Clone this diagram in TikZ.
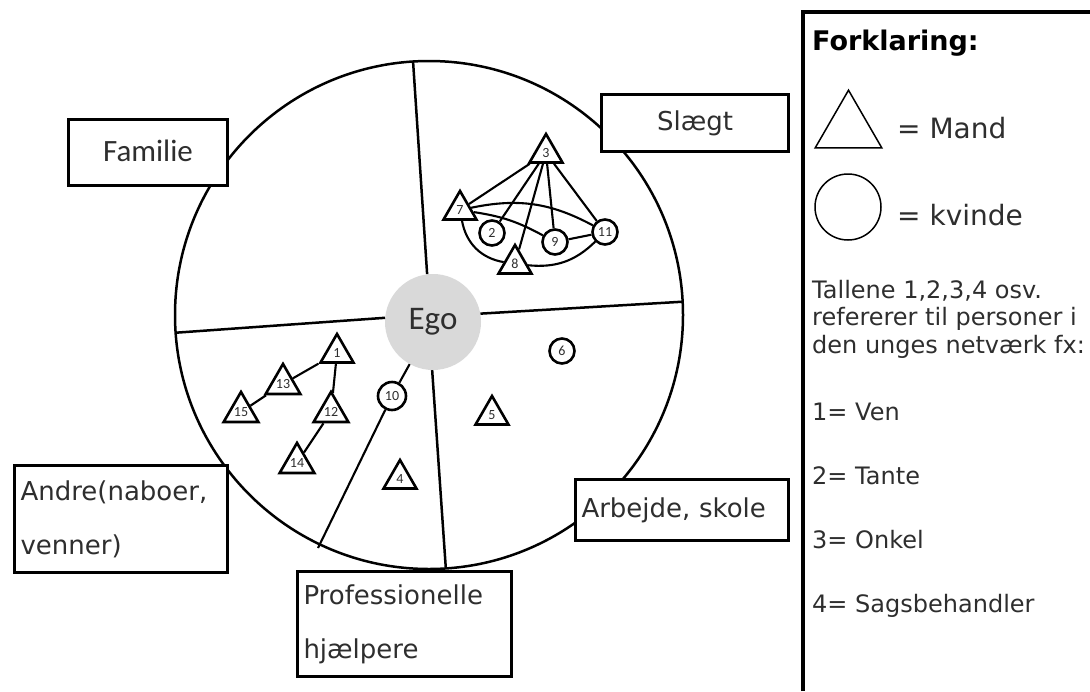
\documentclass[tikz,border=0pt]{standalone}
\usepackage{fontspec}
\setmainfont{DejaVu Sans}
\newfontfamily\carlito{Carlito}
\usetikzlibrary{shapes.geometric}
\definecolor{ink}{HTML}{2E2E2E}
\definecolor{egogray}{HTML}{D9D9D9}
\begin{document}
\begin{tikzpicture}
            [x=1pt, y=1pt,
             man/.style = {regular polygon, regular polygon sides=3, draw, line width=2.6pt, fill=white, inner sep=0pt, minimum size=38pt, text=ink, font=\carlito\fontsize{14}{14}\selectfont},
             woman/.style = {circle, draw, line width=2.6pt, fill=white, inner sep=0pt, minimum size=25pt, text=ink, font=\carlito\fontsize{14}{14}\selectfont},
             tie/.style = {line width=2.1pt},
             sector/.style = {draw, line width=3pt, fill=white, inner sep=6pt, text=ink, font=\fontsize{26}{54}\selectfont},
             legend/.style = {anchor=base west, inner sep=0pt, text=ink, font=\fontsize{24}{28}\selectfont}]
            \useasboundingbox (0,0) rectangle (1090,-691);
            % ring and ego
            \coordinate (c) at (429,-315);
            \draw[line width=2.5pt] (c) circle[radius=254];
            \node[circle, fill=egogray, inner sep=0pt, minimum size=96pt, text=ink, font=\carlito\fontsize{33}{33}\selectfont] (ego) at (433,-322) {Ego};
            \foreach \a [count=\i] in {93.6,184,3,273.8}
                \path (c) ++(\a:254) coordinate (d\i);
            \draw[line width=2.5pt] (ego.97) -- (d1);
            \draw[line width=2.5pt] (ego.175) -- (d2);
            \draw[line width=2.5pt] (ego.10) -- (d3);
            \draw[line width=2.5pt] (ego.269) -- (d4);
            % persons
            \node[man] (3) at (546,-153) {3};
            \node[man] (7) at (460,-210) {7};
            \node[man] (8) at (515,-264) {8};
            \node[woman] (2) at (492,-233) {2};
            \node[woman] (9) at (555,-242) {9};
            \node[woman] (11) at (605,-232) {11};
            \node[woman] (6) at (562,-351) {6};
            \node[woman, minimum size=28pt] (10) at (392,-396) {10};
            \node[man] (1) at (337,-353) {1};
            \node[man] (13) at (283,-384) {13};
            \node[man] (15) at (241,-412) {15};
            \node[man] (12) at (331,-412) {12};
            \node[man] (14) at (297,-463) {14};
            \node[man] (4) at (400,-479) {4};
            \node[man] (5) at (492,-415) {5};
            \coordinate (e10) at (318,-548);
            \draw[tie] (3) -- (7);
            \draw[tie] (3) -- (2);
            \draw[tie] (3) -- (8);
            \draw[tie] (3) -- (9);
            \draw[tie] (3) -- (11);
            \draw[tie] (7) to[bend left=20] (11);
            \draw[tie] (7) to[bend left=10] (9);
            \draw[tie] (9) -- (11);
            \draw[tie] (7) to[bend right=35] (8);
            \draw[tie] (8) to[bend right=25] (11);
            \draw[tie] (1) -- (13);
            \draw[tie] (13) -- (15);
            \draw[tie] (1) -- (12);
            \draw[tie] (12) -- (14);
            \draw[tie] (ego) -- (10) -- (e10);
            % sectors
            \node[sector, minimum width=159pt, minimum height=66pt, font=\carlito\fontsize{31}{31}\selectfont] (familie) at (148,-152.5) {\raisebox{4pt}{Familie}};
            \node[sector, minimum width=187pt, minimum height=57pt] (slaegt) at (695,-123) {Slægt};
            \node[sector, text width=201pt, minimum height=107pt, align=left] (andre) at (121,-519) {Andre(naboer,\\venner)};
            \node[sector, text width=202pt, minimum height=105pt, align=left] (prof) at (404.5,-624) {Professionelle\\hjælpere};
            \node[sector, text width=201pt, minimum height=61pt, align=left] (arbejde) at (682,-510) {Arbejde, skole};
            % legend
            \draw[line width=4pt] (803,-691) -- (803,-12) -- (1092,-12);
            \node[anchor=base west, inner sep=0pt, font=\bfseries\fontsize{27}{27}\selectfont] (head) at (812,-50) {Forklaring:};
            \node[regular polygon, regular polygon sides=3, draw, line width=1.5pt, inner sep=0pt, minimum size=77pt] (mand) at (848.5,-128.7) {};
            \node[legend, font=\fontsize{28}{28}\selectfont] (mandtxt) at (897,-138) {= Mand};
            \node[circle, draw, line width=1.5pt, inner sep=0pt, minimum size=66pt] (kvinde) at (848,-207) {};
            \node[legend, font=\fontsize{28}{28}\selectfont] (kvindetxt) at (897,-225) {= kvinde};
            \node[legend] (note1) at (812,-298) {Tallene 1,2,3,4 osv.};
            \node[legend] (note2) at (812,-325.5) {refererer til personer i};
            \node[legend] (note3) at (812,-353) {den unges netværk fx:};
            \foreach \n/\who [count=\i] in {1/Ven, 2/Tante, 3/Onkel, 4/Sagsbehandler}
                \node[legend] (key\i) at (812,{-420-64*(\i-1)}) {\n= \who};
\end{tikzpicture}
\end{document}
